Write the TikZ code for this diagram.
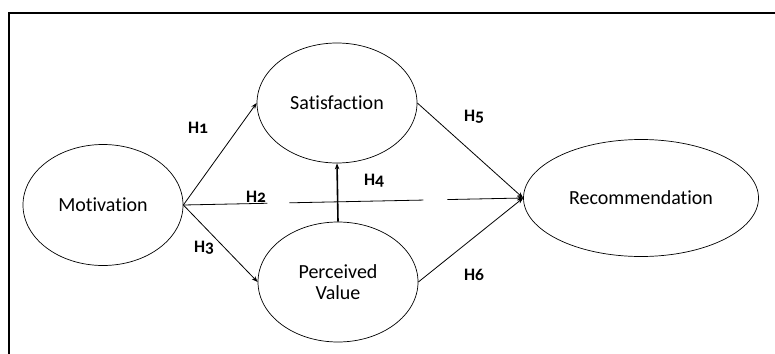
\documentclass[tikz,border=0pt]{standalone}
\usepackage{fontspec}
\setmainfont{Carlito}[Ligatures=NoCommon]
\usetikzlibrary{shapes.geometric,arrows.meta}
\newcommand{\hyp}[1]{\textbf{\addfontfeatures{Numbers=OldStyle}H#1}}

\begin{document}
\begin{tikzpicture}[x=1pt,y=-1pt,
   construct/.style={draw,ellipse,line width=0.7pt,inner sep=0pt,align=center,
                     font=\fontsize{20}{21}\selectfont},
   link/.style={-{Stealth[length=6pt,width=4.5pt]},line width=0.8pt},
   hlabel/.style={inner sep=0pt,font=\fontsize{17.5}{19}\selectfont}]
   \useasboundingbox (0,0) rectangle (775,353);
   % frame, cut at the right and bottom
   \draw[line width=2pt] (776,13) -- (9,13) -- (9,354);
   % constructs
   \node[construct,minimum width=160pt,minimum height=121pt] (mot) at (103,205) {Motivation};
   \node[construct,minimum width=160pt,minimum height=120pt] (sat) at (337,103) {Satisfaction};
   \node[construct,minimum width=160pt,minimum height=120pt] (val) at (338,282) {Perceived\\Value};
   \node[construct,minimum width=235pt,minimum height=117pt] (rec) at (641,198) {Recommendation};
   % paths
   \draw[link] (mot.east) -- (sat.west);
   \draw[link] (mot.east) -- (val.west);
   \draw[link,dash pattern=on 84pt off 22pt on 134pt off 24pt on 200pt] (mot.east) -- (rec.west);
   \draw[link] (sat.east) -- (rec.west);
   \draw[link] (val.east) -- (rec.west);
   \draw[link,line width=1.6pt] (val.north) -- (sat.south);
   % hypotheses
   \node[hlabel] (h1) at (198,128) {\hyp{1}};
   \node[hlabel] (h2) at (256,197) {\hyp{2}};
   \node[hlabel] (h3) at (204,248) {\hyp{3}};
   \node[hlabel] (h4) at (374,181) {\hyp{4}};
   \node[hlabel] (h5) at (474,117) {\hyp{5}};
   \node[hlabel] (h6) at (474,275) {\hyp{6}};
\end{tikzpicture}
\end{document}
